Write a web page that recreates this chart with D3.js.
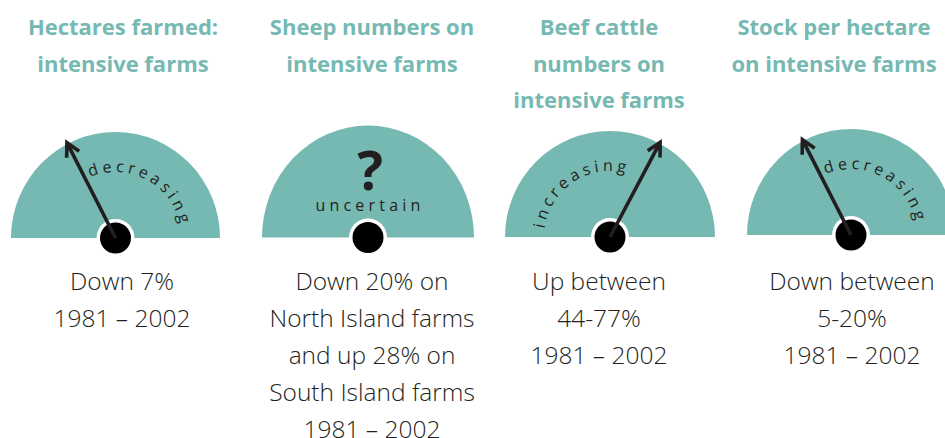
<!doctype html>
<html>
<head>
<style>
  body { margin: 0; background: #fff; }
  .title { font-family: "Open Sans", sans-serif; font-weight: 700; fill: #76b9b3; }
  .summary { font-family: "Open Sans", sans-serif; font-weight: 300; fill: #231f20; }
  .trend { font-family: "Open Sans", sans-serif; fill: #231f20; }
</style>
<script src="https://d3js.org/d3.v7.min.js"></script>
</head>
<body>
<svg width="945" height="438"></svg>
<script>
  // ---- data ----
  var titles = [
    ["Hectares farmed:", "intensive farms"],
    ["Sheep numbers on", "intensive farms"],
    ["Beef cattle", "numbers on", "intensive farms"],
    ["Stock per hectare", "on intensive farms"]
  ];
  var trends = ["decreasing", "uncertain", "increasing", "decreasing"];
  // needle reading on a 0-100 dial, null = no needle
  var needleValues = [35, null, 65.5, 35];
  var summaries = [
    ["Down 7%", "1981 \u2013 2002"],
    ["Down 20% on", "North Island farms", "and up 28% on", "South Island farms", "1981 \u2013 2002"],
    ["Up between", "44-77%", "1981 \u2013 2002"],
    ["Down between", "5-20%", "1981 \u2013 2002"]
  ];

  // ---- layout ----
  var gaugeX = [115.5, 368, 610, 851],
      gaugeY = [238, 237.5, 237, 235],
      gaugeRx = [104.5, 106, 105, 104],
      gaugeRy = [106, 112, 106, 106],
      titleX = [123, 372, 599, 834],
      summaryX = [122, 372, 599, 852];
  var teal = "#76b9b3", ink = "#231f20";

  var svg = d3.select("svg");
  var dial = d3.scaleLinear().domain([0, 100]).range([-90, 90]);
  var rad = function(a) { return a * Math.PI / 180; };

  // titles
  titles.forEach(function(lines, i) {
    svg.append("text")
       .attr("class", "title")
       .attr("text-anchor", "middle")
       .attr("font-size", "22px")
       .selectAll("tspan")
       .data(lines)
       .enter().append("tspan")
       .attr("x", titleX[i])
       .attr("y", function(d, j) { return 35 + j * 36.5; })
       .text(function(d) { return d; });
  });

  // summaries
  summaries.forEach(function(lines, i) {
    svg.append("text")
       .attr("class", "summary")
       .attr("text-anchor", "middle")
       .attr("font-size", "24.5px")
       .selectAll("tspan")
       .data(lines)
       .enter().append("tspan")
       .attr("x", summaryX[i])
       .attr("y", function(d, j) { return 289.5 + j * 37.2; })
       .text(function(d) { return d; });
  });

  var defs = svg.append("defs");

  trends.forEach(function(t, i) {
    var cx = gaugeX[i], cy = gaugeY[i], rx = gaugeRx[i], ry = gaugeRy[i];
    var g = svg.append("g").attr("transform", "translate(" + cx + "," + cy + ")");

    // half dial
    g.append("path")
     .attr("d", "M" + (-rx) + ",0 A" + rx + "," + ry + " 0 0 1 " + rx + ",0 Z")
     .attr("fill", teal);

    var v = needleValues[i];
    if (v === null) {
      g.append("text")
       .attr("text-anchor", "middle")
       .attr("x", 2).attr("y", -48)
       .attr("font-family", "Open Sans, sans-serif")
       .attr("font-weight", 700)
       .attr("font-size", "54px")
       .attr("fill", ink)
       .text("?");
      g.append("text")
       .attr("class", "trend")
       .attr("text-anchor", "middle")
       .attr("x", 2).attr("y", -27)
       .attr("font-size", "16px")
       .attr("letter-spacing", "4.2px")
       .text(t);
    } else {
      var a = dial(v);
      // label runs along an arc on the other side of the needle
      var mid = a < 0 ? a + 56 : a - 61;
      var r = 66;
      var a0 = rad(mid - 90), a1 = rad(mid + 90);
      var id = "arc" + i;
      defs.append("path")
          .attr("id", id)
          .attr("d", "M" + (cx + r * Math.sin(a0)) + "," + (cy - r * Math.cos(a0)) +
                     " A" + r + "," + r + " 0 0 1 " + (cx + r * Math.sin(a1)) + "," + (cy - r * Math.cos(a1)));
      svg.append("text")
         .attr("class", "trend")
         .attr("font-size", "16px")
         .attr("letter-spacing", "3.8px")
         .append("textPath")
         .attr("href", "#" + id)
         .attr("startOffset", "50%")
         .attr("text-anchor", "middle")
         .text(t);
    }

    // hub
    g.append("circle").attr("r", 19).attr("fill", "#fff");
    g.append("circle").attr("r", 15.5).attr("fill", "#000");

    if (v !== null) {
      var a = rad(dial(v)), len = 107, arm = 15, spread = rad(28);
      var tip = [len * Math.sin(a), -len * Math.cos(a)];
      var back = a + Math.PI;
      var p1 = [tip[0] + arm * Math.sin(back - spread), tip[1] - arm * Math.cos(back - spread)];
      var p2 = [tip[0] + arm * Math.sin(back + spread), tip[1] - arm * Math.cos(back + spread)];
      g.append("path")
       .attr("d", "M0,0 L" + tip + " M" + p1 + " L" + tip + " L" + p2)
       .attr("fill", "none")
       .attr("stroke", ink)
       .attr("stroke-width", 3.6)
       .attr("stroke-linejoin", "miter");
    }
  });
</script>
</body>
</html>
